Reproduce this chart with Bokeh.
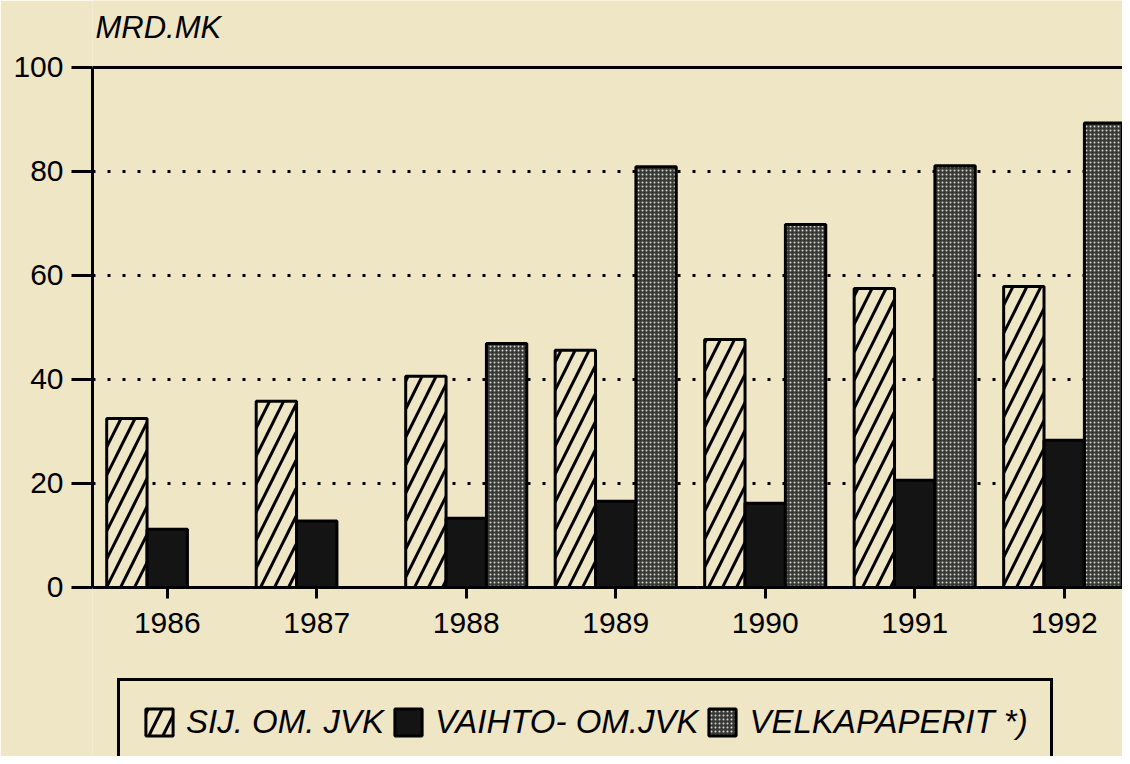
from bokeh.plotting import figure
from bokeh.models import (Range1d, FixedTicker, Span, Legend, LegendItem,
                          ColumnDataSource)
from bokeh.core.properties import value
from bokeh.transform import dodge
from bokeh.embed import file_html
from bokeh.resources import INLINE

nan = float("nan")
years = ["1986", "1987", "1988", "1989", "1990", "1991", "1992"]
sij_om_jvk = [32.5, 35.8, 40.6, 45.6, 47.7, 57.5, 57.9]
vaihto_om_jvk = [11.2, 12.8, 13.3, 16.6, 16.2, 20.6, 28.3]
velkapaperit = [nan, nan, 46.9, 80.9, 69.8, 81.1, 89.3]
y_ticks = [0, 20, 40, 60, 80, 100]
grid_ticks = [20, 40, 60, 80]
series_labels = ["SIJ. OM. JVK", "VAIHTO- OM.JVK", "VELKAPAPERIT *)"]
unit_label = "MRD.MK"

BG = "#efe6c6"
FONT = "Liberation Sans"

src = ColumnDataSource(dict(
    pos=list(range(len(years))),
    sij=sij_om_jvk,
    vaihto=vaihto_om_jvk,
    velka=velkapaperit,
))

p = figure(width=1122, height=756,
           x_range=Range1d(-0.5, 6.39), y_range=Range1d(-32.5, 112.88),
           output_backend="svg", toolbar_location=None,
           min_border_left=92, min_border_right=0,
           min_border_top=0, min_border_bottom=0,
           background_fill_color=BG, border_fill_color=BG,
           outline_line_color=None)

W = 0.27
r1 = p.vbar(x=dodge("pos", -0.27), top="sij", width=W, source=src,
            fill_color=BG, line_color="black", line_width=3,
            hatch_pattern="/", hatch_color="black", hatch_scale=28,
            hatch_weight=3)
r2 = p.vbar(x=dodge("pos", 0.0), top="vaihto", width=W, source=src,
            fill_color="#141414", line_color="black", line_width=3)
r3 = p.vbar(x=dodge("pos", 0.27), top="velka", width=W, source=src,
            fill_color="#383836", line_color="black", line_width=3,
            hatch_pattern="dot", hatch_color="#d8d8d0", hatch_scale=4,
            hatch_weight=2.5)

# top frame line at 100
p.add_layout(Span(location=100, dimension="width", line_color="black",
                  line_width=3))

# x axis fixed at zero
p.xaxis.fixed_location = 0
p.xaxis.ticker = FixedTicker(ticks=list(range(len(years))))
p.xaxis.major_label_overrides = {i: y for i, y in enumerate(years)}
p.xaxis.axis_line_width = 3
p.xaxis.major_tick_line_width = 3
p.xaxis.major_tick_in = 0
p.xaxis.major_tick_out = 11
p.xaxis.minor_tick_line_color = None
p.xaxis.major_label_standoff = 15
p.xaxis.major_label_text_font = FONT
p.xaxis.major_label_text_font_size = "30px"
p.xaxis.major_label_text_color = "black"

p.yaxis.ticker = FixedTicker(ticks=y_ticks)
p.yaxis.bounds = (0, 100)
p.yaxis.axis_line_width = 3
p.yaxis.major_tick_line_width = 3
p.yaxis.major_tick_in = 0
p.yaxis.major_tick_out = 21
p.yaxis.minor_tick_line_color = None
p.yaxis.major_label_standoff = 8
p.yaxis.major_label_text_font = FONT
p.yaxis.major_label_text_font_size = "30px"
p.yaxis.major_label_text_color = "black"

p.xgrid.visible = False
p.ygrid.ticker = FixedTicker(ticks=grid_ticks)
p.ygrid.grid_line_color = "black"
p.ygrid.grid_line_width = 3
p.ygrid.grid_line_dash = "3 12"

# unit label above the plot
p.text(x=[-0.48], y=[107.7], text=[unit_label], text_font=value(FONT),
       text_font_style="italic", text_font_size="31px", text_color="black",
       text_baseline="alphabetic", text_align="left")

legend = Legend(items=[LegendItem(label=series_labels[0], renderers=[r1]),
                       LegendItem(label=series_labels[1], renderers=[r2]),
                       LegendItem(label=series_labels[2], renderers=[r3])],
                orientation="horizontal", location=(25, -10),
                label_text_font=FONT, label_text_font_style="italic",
                label_text_font_size="33px", label_text_color="black",
                glyph_width=34, glyph_height=34, label_standoff=10,
                spacing=7, padding=22, margin=0,
                border_line_color="black", border_line_width=3,
                border_line_alpha=1.0,
                background_fill_color=BG, background_fill_alpha=1)
p.add_layout(legend, "center")

open("out.html", "w").write(file_html(p, INLINE))
